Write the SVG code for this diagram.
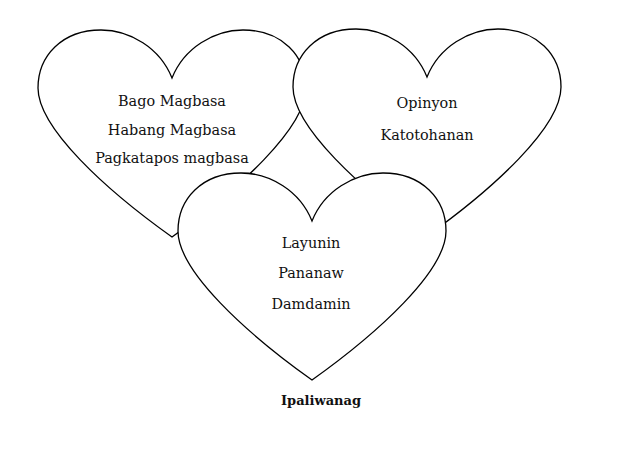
<svg xmlns="http://www.w3.org/2000/svg" width="631" height="449" viewBox="0 0 631 449">
<style>
.heart{fill:#fff;stroke:#000;stroke-width:1.3;stroke-linejoin:miter}
.t{font-family:"DejaVu Serif","Liberation Serif",serif;font-size:14.4px;fill:#111;text-anchor:middle}
.b{font-family:"DejaVu Serif","Liberation Serif",serif;font-size:13px;font-weight:bold;fill:#111;text-anchor:middle}
</style>
<defs>
<path id="heartShape" d="M 0,48 C 12,18 42,0 71,0 C 110,0 134,26 134,58 C 134,98 66,160 0,207 C -66,160 -134,98 -134,58 C -134,26 -110,0 -71,0 C -42,0 -12,18 0,48 Z"/>
</defs>
<rect width="631" height="449" fill="#fff"/>
<g id="heart-left">
<use href="#heartShape" class="heart" transform="translate(172,30)"/>
<text class="t" x="172" y="106">Bago Magbasa</text>
<text class="t" x="172" y="135">Habang Magbasa</text>
<text class="t" x="172" y="163">Pagkatapos magbasa</text>
</g>
<g id="heart-right">
<use href="#heartShape" class="heart" transform="translate(427,29)"/>
<text class="t" x="427" y="108">Opinyon</text>
<text class="t" x="427" y="140">Katotohanan</text>
</g>
<g id="heart-bottom">
<use href="#heartShape" class="heart" transform="translate(312,173)"/>
<text class="t" x="311" y="248">Layunin</text>
<text class="t" x="311" y="278">Pananaw</text>
<text class="t" x="311" y="309">Damdamin</text>
</g>
<g id="caption">
<text class="b" x="321" y="405">Ipaliwanag</text>
</g>
</svg>
